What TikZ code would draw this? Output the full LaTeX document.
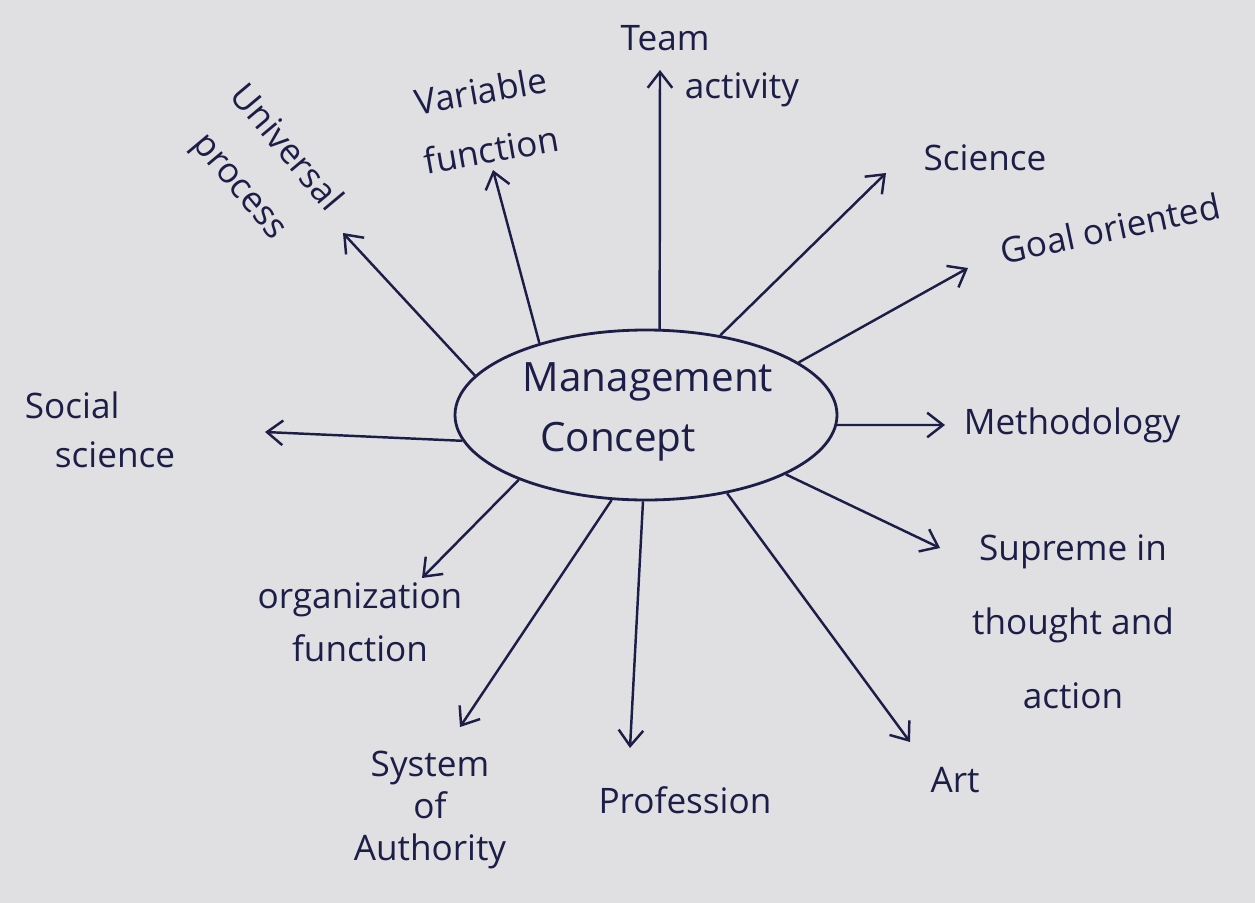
\documentclass[tikz,border=0pt]{standalone}
\usepackage{fontspec}
\setmainfont{Open Sans}
\usetikzlibrary{arrows.meta,shapes.geometric}
\definecolor{paper}{RGB}{224,224,226}
\definecolor{ink}{RGB}{28,30,72}
\tikzset{
  arr/.style={draw=ink, line width=1.4pt, -{Straight Barb[length=9pt,width=14pt,line width=1.4pt]}},
  lbl/.style={text=ink, font=\fontsize{20}{34}\selectfont, inner sep=0pt, align=center},
  hub/.style={ellipse, draw=ink, line width=1.6pt, minimum width=382*0.02cm, minimum height=170*0.02cm, inner sep=0pt}
}
\begin{document}
\begin{tikzpicture}[x=0.02cm,y=-0.02cm]
  \fill[paper] (0,0) rectangle (1255,903);
  \useasboundingbox (0,0) rectangle (1255,903);

  % central concept
  \node[hub] (mc) at (646,415) {};
  \node[lbl, font=\fontsize{23}{36}\selectfont] (mct) at (648,412) {Management\\[-2pt]\hspace*{-1.2cm}Concept};

  % arrow tips
  \coordinate (tUni) at (343,233);
  \coordinate (tVar) at (493,170);
  \coordinate (tTeam) at (660,70);
  \coordinate (tSci) at (886,173);
  \coordinate (tGoal) at (968,268);
  \coordinate (tMeth) at (945,425);
  \coordinate (tSup) at (940,548);
  \coordinate (tArt) at (910,742);
  \coordinate (tProf) at (630,748);
  \coordinate (tSys) at (460,727);
  \coordinate (tOrg) at (422,578);
  \coordinate (tSoc) at (265,432);

  % spokes
  \draw[arr] (mc.167) -- (tUni);
  \draw[arr] (mc.146) -- (tVar);
  \draw[arr] (mc.81) -- (tTeam);
  \draw[arr] (mc.47) -- (tSci);
  \draw[arr] (mc.19) -- (tGoal);
  \draw[arr] (mc.-3) -- (tMeth);
  \draw[arr] (mc.-23) -- (tSup);
  \draw[arr] (mc.-44) -- (tArt);
  \draw[arr] (mc.-92) -- (tProf);
  \draw[arr] (mc.-112) -- (tSys);
  \draw[arr] (mc.-153) -- (tOrg);
  \draw[arr] (mc.-172) -- (tSoc);

  % labels
  \node[lbl, rotate=-50] (lUni) at (262,168) {Universal\\process};
  \node[lbl, rotate=10] (lVar) at (486,120) {Variable\\function};
  \node[lbl] (lTeam1) at (665,38) {Team};
  \node[lbl] (lTeam2) at (742,90) {activity};
  \node[lbl] (lSci) at (985,158) {Science};
  \node[lbl, rotate=12] (lGoal) at (1110,228) {Goal oriented};
  \node[lbl] (lMeth) at (1072,425) {Methodology};
  \node[lbl, font=\fontsize{20}{42}\selectfont] (lSup) at (1073,622) {Supreme in\\thought and\\action};
  \node[lbl] (lArt) at (955,780) {Art};
  \node[lbl] (lProf) at (685,800) {Profession};
  \node[lbl, font=\fontsize{20}{24}\selectfont] (lSys) at (430,810) {System\\of\\Authority};
  \node[lbl, font=\fontsize{20}{30}\selectfont] (lOrg) at (360,622) {organization\\function};
  \node[lbl, align=left, font=\fontsize{20}{28}\selectfont] (lSoc) at (100,430) {Social\\\hspace*{0.6cm}science};
\end{tikzpicture}
\end{document}
